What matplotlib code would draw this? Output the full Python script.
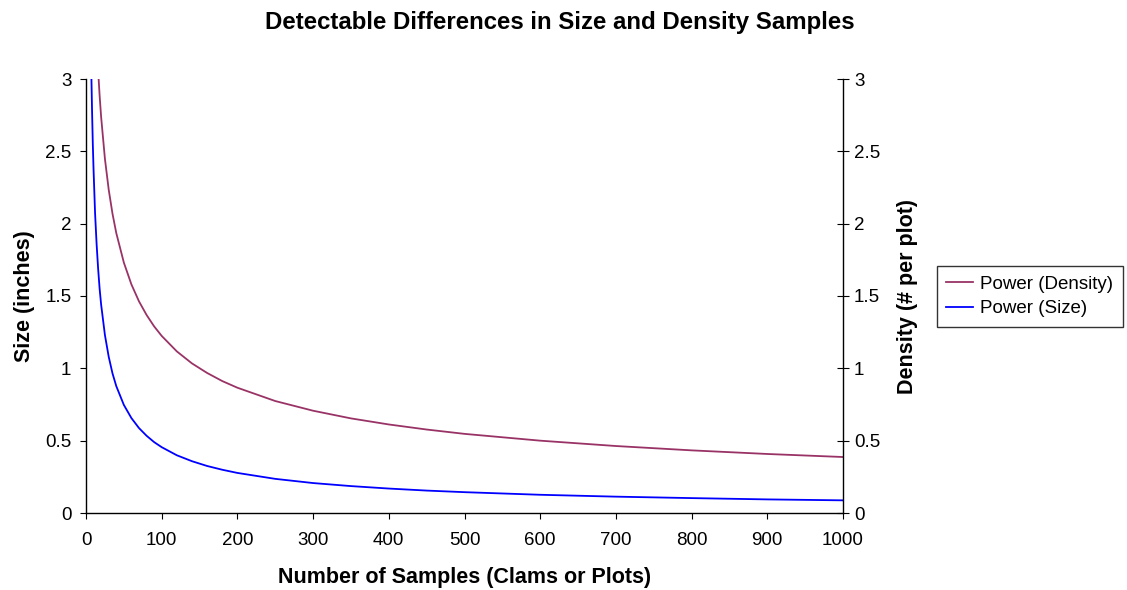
import matplotlib
matplotlib.use("Agg")
import matplotlib.pyplot as plt

plt.rcParams['font.family'] = ['Liberation Sans', 'DejaVu Sans']

# Data
size_x = [7, 8, 9, 10, 12, 14, 16, 18, 20, 25, 30, 35, 40, 50, 60, 70, 80, 90, 100,
          120, 140, 160, 180, 200, 250, 300, 350, 400, 450, 500, 600, 700, 800, 900, 1000]
size_y = [3.05, 2.78, 2.55, 2.37, 2.07, 1.86, 1.69, 1.55, 1.44, 1.23, 1.08, 0.965, 0.877,
          0.747, 0.656, 0.587, 0.534, 0.490, 0.455, 0.399, 0.358, 0.325, 0.299, 0.277,
          0.236, 0.207, 0.186, 0.169, 0.155, 0.144, 0.126, 0.113, 0.103, 0.094, 0.0875]

dens_x = [15, 16, 18, 20, 25, 30, 35, 40, 50, 60, 70, 80, 90, 100, 120, 140, 160, 180,
          200, 250, 300, 350, 400, 450, 500, 600, 700, 800, 900, 1000]
dens_y = [3.16, 3.06, 2.885, 2.737, 2.448, 2.235, 2.069, 1.935, 1.731, 1.580, 1.463,
          1.369, 1.290, 1.224, 1.117, 1.034, 0.968, 0.912, 0.866, 0.774, 0.707, 0.654,
          0.612, 0.577, 0.547, 0.500, 0.463, 0.433, 0.408, 0.387]

x_ticks = [0, 100, 200, 300, 400, 500, 600, 700, 800, 900, 1000]
y_ticks = [0, 0.5, 1, 1.5, 2, 2.5, 3]
y_tick_labels = ['0', '0.5', '1', '1.5', '2', '2.5', '3']

title = "Detectable Differences in Size and Density Samples"
xlabel = "Number of Samples (Clams or Plots)"
ylabel_left = "Size (inches)"
ylabel_right = "Density (# per plot)"
label_density = "Power (Density)"
label_size = "Power (Size)"

DENS_COLOR = '#993366'
SIZE_COLOR = '#0000FF'

fig = plt.figure(figsize=(11.27, 5.90), dpi=100)
ax = fig.add_axes([86/1127, 77/590, 757/1127, 434/590])
ax2 = ax.twinx()

ln_d, = ax2.plot(dens_x, dens_y, color=DENS_COLOR, lw=1.3, label=label_density)
ln_s, = ax.plot(size_x, size_y, color=SIZE_COLOR, lw=1.3, label=label_size)

for a in (ax, ax2):
    a.set_xlim(0, 1000)
    a.set_ylim(0, 3)
    a.set_yticks(y_ticks)
    a.set_yticklabels(y_tick_labels)
    a.spines['top'].set_visible(False)
    for s in a.spines.values():
        s.set_color('black')
        s.set_linewidth(1.0)

ax.set_xticks(x_ticks)
ax.tick_params(axis='x', direction='out', length=4.5, color='black', labelsize=13.5, pad=9.5)
ax.tick_params(axis='y', direction='out', length=4.5, color='black', labelsize=13.5, pad=6)
ax2.tick_params(axis='y', direction='inout', length=8, color='black', labelsize=13.5, pad=4)
ax.spines['right'].set_visible(False)
ax2.spines['left'].set_visible(False)
ax2.spines['bottom'].set_visible(False)

ax.set_xlabel(xlabel, fontsize=15.5, fontweight='bold', labelpad=13)
ax.set_ylabel(ylabel_left, fontsize=15.5, fontweight='bold', labelpad=7)
ax2.set_ylabel(ylabel_right, fontsize=15.5, fontweight='bold', labelpad=12)

fig.text(0.5 * (262 + 858) / 1127, 1 - 22 / 590, title, ha='center', va='center',
         fontsize=17.3, fontweight='bold')

leg = fig.legend([ln_d, ln_s], [label_density, label_size], loc='center left',
                 bbox_to_anchor=(937/1127, 1 - 296.5/590), frameon=True, fancybox=False,
                 fontsize=13.5, handlelength=1.4, handletextpad=0.4, borderpad=0.5,
                 labelspacing=0.4, borderaxespad=0)
leg.get_frame().set_edgecolor('black')
leg.get_frame().set_linewidth(1.0)

fig.savefig('out.png', dpi=100)
